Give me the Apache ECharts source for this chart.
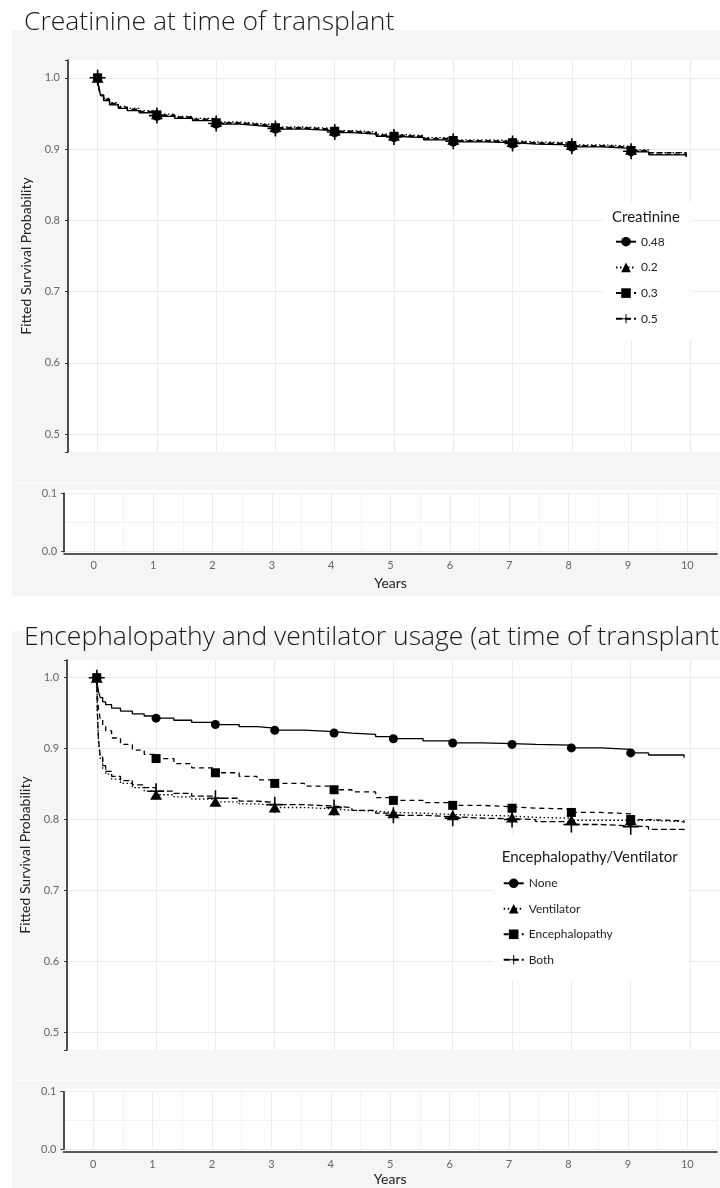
<!DOCTYPE html>
<html><head><meta charset="utf-8">
<script src="https://cdn.jsdelivr.net/npm/echarts@6/dist/echarts.min.js"></script>
<style>html,body{margin:0;padding:0;background:#fff;overflow:hidden}#c{width:720px;height:1188px}</style>
</head><body><div id="c"></div><script>
// ---------- data ----------
const times1 = [0, 0.02, 0.05, 0.1, 0.2, 0.35, 0.5, 0.7, 1, 1.3, 1.6, 2, 2.4, 2.7, 3, 3.5, 4, 4.3, 4.7, 5, 5.5, 6, 6.5, 7, 7.4, 8, 8.5, 9, 9.3, 9.93];
const creat048 = [1.000, 0.985, 0.975, 0.968, 0.962, 0.957, 0.954, 0.951, 0.946, 0.943, 0.940, 0.935, 0.933, 0.931, 0.928, 0.926, 0.923, 0.921, 0.918, 0.916, 0.913, 0.910, 0.909, 0.907, 0.906, 0.903, 0.901, 0.896, 0.892, 0.889];
const creat02  = [1.000, 0.987, 0.977, 0.971, 0.965, 0.960, 0.957, 0.954, 0.949, 0.946, 0.943, 0.938, 0.936, 0.934, 0.931, 0.929, 0.926, 0.924, 0.921, 0.919, 0.916, 0.913, 0.912, 0.910, 0.909, 0.906, 0.904, 0.899, 0.895, 0.893];
const creat03  = [1.000, 0.986, 0.976, 0.970, 0.964, 0.959, 0.956, 0.953, 0.948, 0.945, 0.942, 0.937, 0.935, 0.933, 0.930, 0.928, 0.925, 0.923, 0.920, 0.918, 0.915, 0.912, 0.911, 0.909, 0.908, 0.905, 0.903, 0.898, 0.895, 0.892];
const creat05  = [1.000, 0.985, 0.975, 0.969, 0.963, 0.958, 0.955, 0.952, 0.947, 0.944, 0.941, 0.936, 0.934, 0.932, 0.929, 0.927, 0.924, 0.922, 0.919, 0.917, 0.914, 0.911, 0.910, 0.908, 0.907, 0.904, 0.902, 0.897, 0.893, 0.890];
const creatNames = ['0.48', '0.2', '0.3', '0.5'];

const times2 = [0, 0.01, 0.03, 0.06, 0.1, 0.15, 0.25, 0.4, 0.6, 0.8, 1, 1.3, 1.6, 2, 2.4, 2.7, 3, 3.5, 4, 4.3, 4.7, 5, 5.5, 6, 6.5, 7, 7.4, 8, 8.5, 9, 9.3, 9.9];
const encNone = [1.000, 0.990, 0.980, 0.972, 0.966, 0.962, 0.957, 0.953, 0.949, 0.946, 0.943, 0.940, 0.937, 0.934, 0.931, 0.929, 0.926, 0.924, 0.922, 0.920, 0.917, 0.914, 0.911, 0.908, 0.907, 0.906, 0.905, 0.901, 0.899, 0.894, 0.891, 0.887];
const encVent = [1.000, 0.950, 0.910, 0.885, 0.872, 0.864, 0.857, 0.851, 0.845, 0.840, 0.835, 0.832, 0.829, 0.825, 0.822, 0.820, 0.817, 0.815, 0.813, 0.812, 0.810, 0.809, 0.807, 0.806, 0.805, 0.803, 0.802, 0.799, 0.799, 0.799, 0.797, 0.796];
const encEnc  = [1.000, 0.975, 0.955, 0.942, 0.932, 0.925, 0.915, 0.906, 0.898, 0.892, 0.886, 0.879, 0.873, 0.866, 0.861, 0.856, 0.851, 0.847, 0.842, 0.839, 0.831, 0.827, 0.824, 0.820, 0.818, 0.816, 0.815, 0.810, 0.808, 0.800, 0.798, 0.795];
const encBoth = [1.000, 0.952, 0.912, 0.888, 0.876, 0.868, 0.861, 0.855, 0.849, 0.845, 0.840, 0.837, 0.833, 0.830, 0.826, 0.824, 0.821, 0.819, 0.817, 0.813, 0.809, 0.806, 0.804, 0.802, 0.801, 0.800, 0.797, 0.793, 0.791, 0.790, 0.786, 0.783];
const encNames = ['None', 'Ventilator', 'Encephalopathy', 'Both'];

const chartTitles = ['Creatinine at time of transplant', 'Encephalopathy and ventilator usage (at time of transplant)'];
const legendTitles = ['Creatinine', 'Encephalopathy/Ventilator'];

// ---------- styles ----------
const FONT = 'Lato, "Open Sans", sans-serif';
const TFONT = '"Open Sans", Lato, sans-serif';
const PLUS = 'path://M9,0 H11 V9 H20 V11 H11 V20 H9 V11 H0 V9 H9 Z';
const styles = [
  { symbol: 'circle', size: 9, dash: 'solid' },
  { symbol: 'triangle', size: [12, 10], dash: [1.5, 2.5] },
  { symbol: 'rect', size: 9, dash: [5, 4] },
  { symbol: PLUS, size: 16, dash: [6, 3] }
];

function mk(name, times, vals, st, xi, yi) {
  return {
    type: 'line', name, xAxisIndex: xi, yAxisIndex: yi, step: 'end',
    symbol: st.symbol, symbolSize: st.size, showSymbol: true, showAllSymbol: true,
    data: times.map((t, i) => ({ value: [t, vals[i]], symbol: Number.isInteger(t) ? st.symbol : 'none' })),
    lineStyle: { color: '#000', width: 1.3, type: st.dash },
    itemStyle: { color: '#000' },
    emphasis: { disabled: true }, animation: false
  };
}

const gridTop = [
  { left: 68, top: 60, width: 656, height: 392 },
  { left: 64.1, top: 493.3, width: 660, height: 58.4 },
  { left: 67.1, top: 660, width: 652.6, height: 390 },
  { left: 63.4, top: 1091.7, width: 656.6, height: 57.6 }
];

function xTop(g) {
  return { type: 'value', gridIndex: g, min: -0.5, max: 10.5, interval: 0.5,
    axisLine: { show: false }, axisTick: { show: false }, axisLabel: { show: false },
    splitLine: { show: true, lineStyle: { color: ['rgba(0,0,0,0)', '#ebebeb'], width: 1 } } };
}
function xBot(g, off, gap) {
  return { type: 'value', gridIndex: g, min: -0.5, max: 10.5, interval: 0.5, offset: off,
    axisLine: { show: true, onZero: false, lineStyle: { color: '#222', width: 1.6 } },
    axisTick: { show: false },
    axisLabel: { color: '#666', fontSize: 11, fontFamily: FONT, margin: 7,
      formatter: v => Number.isInteger(v) ? String(v) : '' },
    splitLine: { show: true, lineStyle: { color: ['#f3f3f3', '#ebebeb'], width: 1 } },
    name: 'Years', nameLocation: 'middle', nameGap: gap,
    nameTextStyle: { color: '#222', fontSize: 14, fontFamily: FONT } };
}
function yTop(g) {
  return { type: 'value', gridIndex: g, min: 0.475, max: 1.025, splitNumber: 5,
    axisLine: { show: true, onZero: false, lineStyle: { color: '#222', width: 1.6 } },
    axisTick: { show: true, length: 3, lineStyle: { color: '#333' } },
    axisLabel: { color: '#666', fontSize: 11, fontFamily: FONT, margin: 8,
      formatter: v => (Math.abs(v * 10 - Math.round(v * 10)) < 1e-6 && v >= 0.5 && v <= 1) ? v.toFixed(1) : '' },
    splitLine: { show: true, showMinLine: false, showMaxLine: false, lineStyle: { color: '#ebebeb', width: 1 } },
    name: 'Fitted Survival Probability', nameLocation: 'middle', nameGap: 34,
    nameTextStyle: { color: '#222', fontSize: 14, fontFamily: FONT } };
}
function yBot(g) {
  return { type: 'value', gridIndex: g, min: 0, max: 0.1, interval: 0.1,
    axisLine: { show: true, onZero: false, lineStyle: { color: '#222', width: 1.6 } },
    axisTick: { show: true, length: 3, lineStyle: { color: '#333' } },
    axisLabel: { color: '#666', fontSize: 11, fontFamily: FONT, margin: 7, formatter: v => v.toFixed(1) },
    minorTick: { show: false, splitNumber: 2 },
    minorSplitLine: { show: true, lineStyle: { color: '#f3f3f3', width: 1 } },
    splitLine: { show: true, lineStyle: { color: '#ebebeb', width: 1 } } };
}

function rect(x, y, w, h, fill, z) {
  return { type: 'rect', shape: { x, y, width: w, height: h }, style: { fill }, z, silent: true };
}
function txt(x, y, text, size, z) {
  return { type: 'text', x, y, z, silent: true,
    style: { text, fill: '#1a1a1a', font: size + 'px ' + FONT, textVerticalAlign: 'middle', textAlign: 'left' } };
}

const series = [];
[creat048, creat02, creat03, creat05].forEach((v, i) => series.push(mk(creatNames[i], times1, v, styles[i], 0, 0)));
[encNone, encVent, encEnc, encBoth].forEach((v, i) => series.push(mk(encNames[i], times2, v, styles[i], 2, 2)));

const legendBase = { orient: 'vertical', itemWidth: 20, itemHeight: 12, selectedMode: false, padding: 0,
  textStyle: { fontFamily: FONT, fontSize: 12, color: '#222' } };

const titleStyle = { fontFamily: TFONT, fontWeight: 300, fontSize: 26.5, color: '#1a1a1a' };
const option = {
  animation: false,
  backgroundColor: '#fff',
  title: [
    { text: chartTitles[0], left: 24, top: 9, padding: 0, textStyle: titleStyle },
    { text: chartTitles[1], left: 24, top: 624, padding: 0, textStyle: titleStyle }
  ],
  grid: gridTop,
  xAxis: [xTop(0), xBot(1, 1.6, 23), xTop(2), xBot(3, 2.4, 21)],
  yAxis: [yTop(0), yBot(1), yTop(2), yBot(3)],
  legend: [
    Object.assign({}, legendBase, { left: 615, top: 235.7, itemGap: 13.7, data: creatNames }),
    Object.assign({}, legendBase, { left: 502.7, top: 877.3, itemGap: 13.5, data: encNames })
  ],
  graphic: { elements: [
    rect(12, 30, 708, 452.5, '#f5f5f5', -20),
    rect(12, 483.5, 708, 112.5, '#f5f5f5', -20),
    rect(68, 60, 652, 392, '#ffffff', -10),
    rect(64, 490, 656, 63, '#ffffff', -10),
    rect(12, 631, 708, 448.5, '#f5f5f5', -20),
    rect(12, 1081, 708, 107, '#f5f5f5', -20),
    rect(68, 660, 652, 390, '#ffffff', -10),
    rect(64, 1088.5, 656, 63, '#ffffff', -10),
    rect(603, 202, 89, 138, '#ffffff', 3),
    rect(493, 835, 195, 145, '#ffffff', 3),
    txt(612, 217, legendTitles[0], 15, 4),
    txt(501.7, 857, legendTitles[1], 15, 4)
  ] },
  series
};
const chart = echarts.init(document.getElementById('c'), null, { renderer: 'canvas' });
chart.setOption(option);
</script></body></html>
